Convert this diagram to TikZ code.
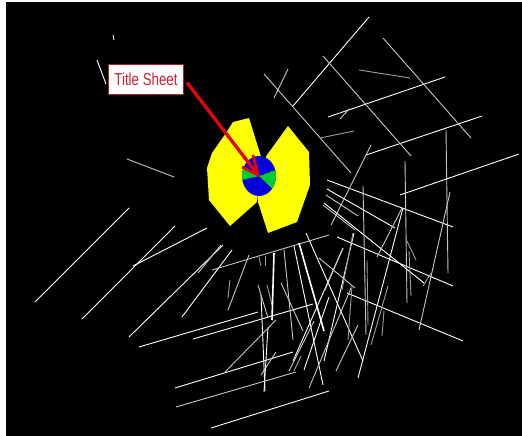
\documentclass[tikz,border=0pt]{standalone}
\usepackage{fontspec}
\setmainfont{Liberation Sans}
\definecolor{bladeyellow}{HTML}{FFFF00}
\definecolor{hubblue}{HTML}{0000DD}
\definecolor{hubgreen}{HTML}{00CC33}
\definecolor{callred}{HTML}{E00808}
\definecolor{calltext}{HTML}{CC2233}
\definecolor{callborder}{HTML}{B02028}
\tikzset{
  wa/.style={draw=white,line width=0.9pt},
  wb/.style={draw=white!78!black,line width=0.9pt},
  wc/.style={draw=white!62!black,line width=0.9pt},
  wthick/.style={draw=white,line width=1.6pt},
  callout/.style={draw=callborder,line width=1pt,fill=white,text=calltext,minimum width=75pt,minimum height=30pt,inner sep=0pt,font=\fontsize{13.6}{15}\selectfont},
  pointer/.style={draw=callred,line width=3.4pt},
  pointerhead/.style={draw=callred,line width=2.8pt,line join=miter}
}
\begin{document}
\begin{tikzpicture}[x=1pt,y=-1pt]
\useasboundingbox (0,0) rectangle (522,436);
\fill[white] (0,0) rectangle (522,436);
\fill[black] (6,2) rectangle (522,436);
% yellow blades
\fill[bladeyellow] (249,118)--(233,122)--(226,133)--(212,153)--(207,168)--(209,200)--(230,226)--(257,202)--(262,160)--cycle;
\fill[bladeyellow] (267,155)--(288,126)--(309,152)--(310,185)--(297,222)--(268,233)--(258,202)--(259,170)--cycle;
% hub
\begin{scope}
\fill[hubblue] (259,176) ellipse [x radius=17,y radius=20];
\clip (259,176) ellipse [x radius=17,y radius=20];
\fill[hubgreen] (259,176)--(238,166)--(238,181)--cycle;
\fill[hubgreen] (259,176)--(280,168)--(276,192)--cycle;
\draw[draw=black!60!blue,dashed,line width=0.5pt] (243,181)--(254,177);
\draw[draw=black!60!blue,dashed,line width=0.5pt] (275,170)--(262,175);
\end{scope}
% white lines
\foreach \a/\b/\c/\d in {
113/35/114/40, 97/60/106/84, 35/302/129/208, 82/319/175/226, 133/266/207/228,
129/337/223/245, 182/317/232/250, 139/347/258/312,
193/339/313/304, 175/388/293/352, 211/428/329/391, 293/106/369/17,
328/117/445/77, 366/155/482/116, 400/195/519/154, 327/180/453/227,
327/189/395/228, 324/203/424/283, 347/293/463/341, 337/237/453/286,
294/246/323/385, 306/233/363/361, 358/378/403/208, 293/361/343/248,
324/361/354/233, 261/295/265/391, 268/327/264/392, 304/370/329/297}
  \draw[wa] (\a,\b)--(\c,\d);
% light grey lines
\foreach \a/\b/\c/\d in {
127/159/174/177, 198/273/221/245, 212/270/329/235, 249/255/228/310,
176/407/296/372, 225/372/276/320, 264/74/351/173, 288/69/274/98,
323/56/411/156, 383/38/471/138, 340/119/349/109, 371/145/331/225,
405/161/407/303, 363/186/366/335, 446/130/448/273, 450/192/419/330,
402/208/377/257, 326/195/358/216, 323/205/355/230, 319/258/355/288,
314/321/289/371, 358/325/336/371, 351/288/309/388, 343/248/325/290,
261/375/276/352, 258/285/268/318, 281/283/303/331, 284/250/293/340}
  \draw[wb] (\a,\b)--(\c,\d);
% darker grey lines
\foreach \a/\b/\c/\d in {
230/280/228/298, 359/70/410/78, 320/138/354/131, 352/286/348/340,
301/356/294/371, 384/311/382/336, 388/286/371/345, 367/260/368/325,
407/241/416/260, 409/251/411/296, 265/256/265/266, 267/285/273/308,
423/286/431/273, 259/257/261/266, 353/233/342/290}
  \draw[wc] (\a,\b)--(\c,\d);
\draw[wthick] (274,253)--(272,320);
\draw[wthick] (299,243)--(324,331);
% callout
\node[callout] (label) at (146,79.5) {\scalebox{0.98}[1.27]{Title Sheet}};
\coordinate (tip) at (258,175);
\coordinate (barbA) at (242,167);
\coordinate (barbB) at (253,155);
\draw[pointer] ([shift={(3pt,-3pt)}]label.east) -- (tip);
\draw[pointerhead] (barbA) -- (tip) -- (barbB);
\end{tikzpicture}
\end{document}
